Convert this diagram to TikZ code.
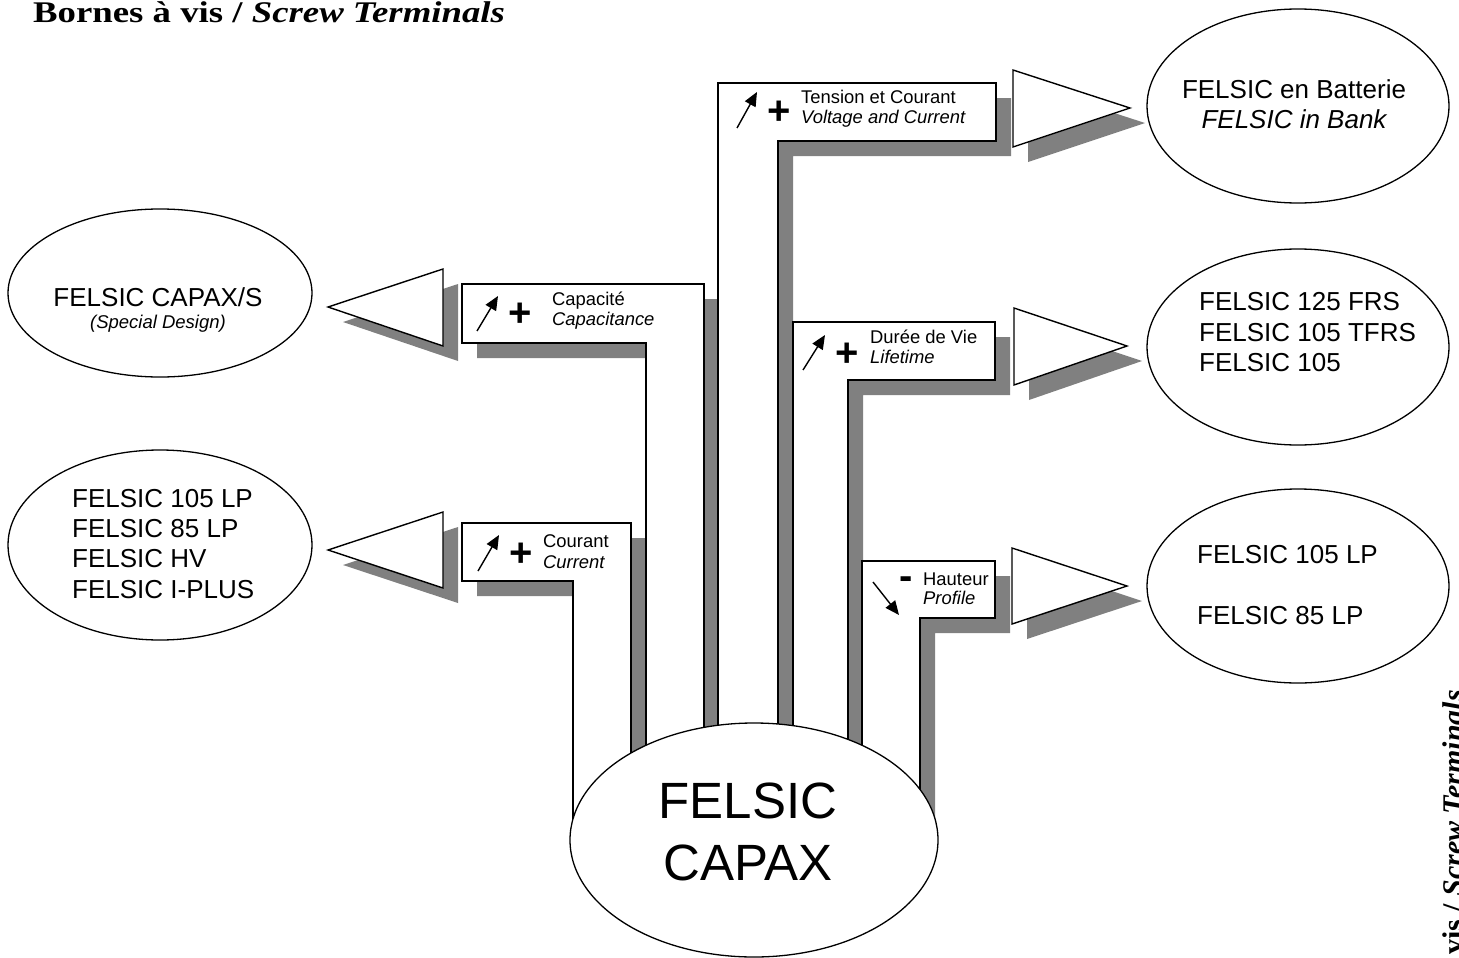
\documentclass[tikz,border=0pt]{standalone}
\usepackage{fontspec}
\setmainfont{Liberation Sans}
\newfontfamily\tnr{Liberation Serif}
\newfontfamily\tnrw[FakeStretch=1.226]{Liberation Serif}
\usetikzlibrary{shapes.geometric,arrows.meta}
\definecolor{shd}{gray}{0.5}
\def\pCap{(462,284) -- (704,284) -- (704,840) -- (646,840) -- (646,343) -- (462,343) -- cycle}
\def\pCou{(462,523) -- (631,523) -- (631,840) -- (573,840) -- (573,581) -- (462,581) -- cycle}
\def\pTen{(718,83) -- (996,83) -- (996,141) -- (778,141) -- (778,840) -- (718,840) -- cycle}
\def\pDur{(793,322) -- (995,322) -- (995,380) -- (848,380) -- (848,840) -- (793,840) -- cycle}
\def\pHau{(862,561) -- (995,561) -- (995,618) -- (920,618) -- (920,840) -- (862,840) -- cycle}
\def\tLa{(443,269) -- (443,346) -- (328,307) -- cycle}
\def\tLb{(443,512) -- (443,588) -- (328,550) -- cycle}
\def\tRa{(1013,70) -- (1013,147) -- (1130,108) -- cycle}
\def\tRb{(1014,308) -- (1014,385) -- (1127,346) -- cycle}
\def\tRc{(1012,548) -- (1012,624) -- (1127,586) -- cycle}
\begin{document}
\begin{tikzpicture}[x=1pt,y=-1pt,
  shp/.style={draw=black,line width=1.4pt,fill=white,line join=miter},
  oval/.style={ellipse,draw=black,line width=1.3pt,fill=white,inner sep=0pt},
  small/.style={font=\fontsize{18.4}{20}\selectfont,inner sep=0pt,anchor=base west},
  smalli/.style={small,font=\fontsize{18.4}{20}\itshape\selectfont},
  big/.style={font=\fontsize{26}{30}\selectfont,inner sep=0pt,anchor=base west},
  bigc/.style={font=\fontsize{26}{30}\selectfont,inner sep=0pt,anchor=base},
  ind/.style={line width=1.4pt,-{Triangle[length=14pt,width=12pt]}},
  sign/.style={font=\fontsize{40}{40}\bfseries\selectfont,inner sep=0pt}
]
\useasboundingbox (0,0) rectangle (1459,958);
% shadows
\begin{scope}[shift={(15,15)}]
  \fill[shd] \pCap; \fill[shd] \pCou; \fill[shd] \pTen; \fill[shd] \pDur; \fill[shd] \pHau;
  \fill[shd] \tLa; \fill[shd] \tLb; \fill[shd] \tRa; \fill[shd] \tRb; \fill[shd] \tRc;
\end{scope}
% shapes
\filldraw[shp] \pCap; \filldraw[shp] \pCou; \filldraw[shp] \pTen; \filldraw[shp] \pDur; \filldraw[shp] \pHau;
\filldraw[shp] \tLa; \filldraw[shp] \tLb; \filldraw[shp] \tRa; \filldraw[shp] \tRb; \filldraw[shp] \tRc;
% ellipses
\node[oval,minimum width=368pt,minimum height=234pt] (main) at (754,840) {};
\node[oval,minimum width=304pt,minimum height=168pt] (capaxs) at (160,293) {};
\node[oval,minimum width=304pt,minimum height=190pt] (lp) at (160,545) {};
\node[oval,minimum width=302pt,minimum height=194pt] (bank) at (1298,106) {};
\node[oval,minimum width=302pt,minimum height=196pt] (frs) at (1298,347) {};
\node[oval,minimum width=302pt,minimum height=194pt] (lpr) at (1298,586) {};
% main text
\node[font=\fontsize{51}{60}\selectfont,inner sep=0pt,anchor=base] (m1) at (748,818) {FELSIC};
\node[font=\fontsize{51}{60}\selectfont,inner sep=0pt,anchor=base] (m2) at (748,880) {CAPAX};
% left ellipses text
\node[bigc] (c1) at (158,306) {FELSIC CAPAX/S};
\node[font=\fontsize{18.5}{20}\itshape\selectfont,inner sep=0pt,anchor=base] (c2) at (158,328) {(Special Design)};
\node[big] (l1) at (72,507) {FELSIC 105 LP};
\node[big] (l2) at (72,537) {FELSIC 85 LP};
\node[big] (l3) at (72,567) {FELSIC HV};
\node[big] (l4) at (72,598) {FELSIC I-PLUS};
% right ellipses text
\node[bigc] (b1) at (1294,98) {FELSIC en Batterie};
\node[bigc,font=\fontsize{26}{30}\itshape\selectfont] (b2) at (1294,128) {FELSIC in Bank};
\node[big] (f1) at (1199,310) {FELSIC 125 FRS};
\node[big] (f2) at (1199,341) {FELSIC 105 TFRS};
\node[big] (f3) at (1199,371) {FELSIC 105};
\node[big] (p1) at (1197,563) {FELSIC 105 LP};
\node[big] (p2) at (1197,624) {FELSIC 85 LP};
% box contents
\draw[ind] (477,331) -- (498,296);
\node[sign] (s1) at (520,315) {+};
\node[small] (t1a) at (552,305) {Capacité};
\node[smalli] (t1b) at (552,325) {Capacitance};
\draw[ind] (478,571) -- (499,535);
\node[sign] (s2) at (521,555) {+};
\node[small] (t2a) at (543,547) {Courant};
\node[smalli] (t2b) at (543,568) {Current};
\draw[ind] (737,128) -- (757,92);
\node[sign] (s3) at (779,113) {+};
\node[small] (t3a) at (801,103) {Tension et Courant};
\node[smalli] (t3b) at (801,123) {Voltage and Current};
\draw[ind] (803,370) -- (825,335);
\node[sign] (s4) at (847,355) {+};
\node[small] (t4a) at (870,343) {Durée de Vie};
\node[smalli] (t4b) at (870,363) {Lifetime};
\draw[ind] (873,582) -- (899,615);
\node[sign] (s5) at (906,583) {-};
\node[small] (t5a) at (923,585) {Hauteur};
\node[smalli] (t5b) at (923,604) {Profile};
% titles
\node[font=\fontsize{30}{34}\bfseries\tnrw\selectfont,inner sep=0pt,anchor=base west] (title) at (33,23) {Bornes à vis / \textit{Screw Terminals}};
\node[font=\fontsize{30}{34}\bfseries\tnr\selectfont,inner sep=0pt,anchor=base east,rotate=90] (vtitle) at (1463,690) {Bornes à vis / \textit{Screw Terminals}};
\end{tikzpicture}
\end{document}
